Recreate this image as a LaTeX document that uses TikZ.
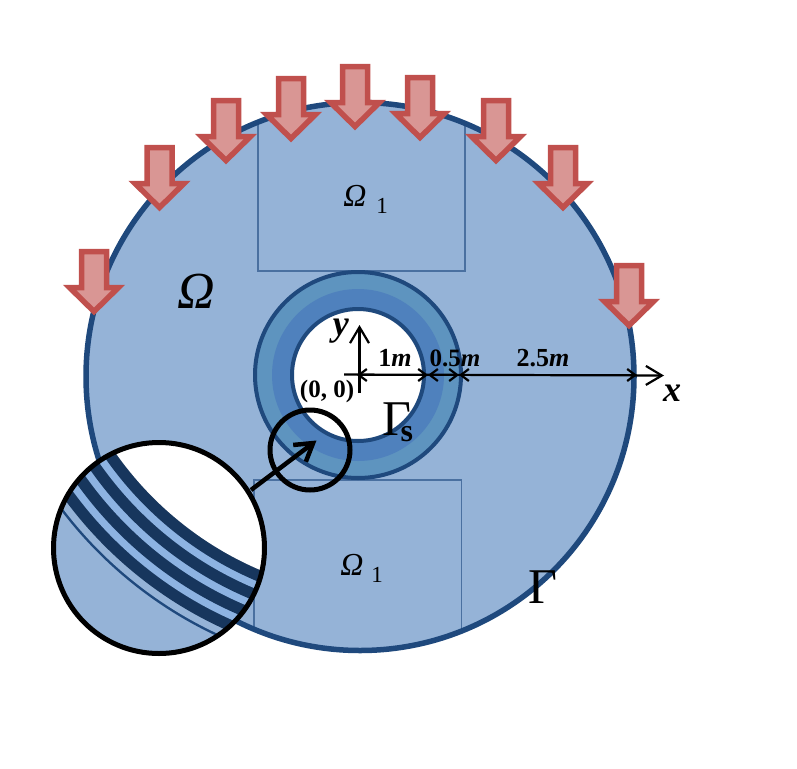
\documentclass[tikz,border=0pt]{standalone}
\usepackage{fontspec}
\setmainfont{Liberation Serif}
\usetikzlibrary{arrows.meta}
\definecolor{domblue}{HTML}{95B3D7}
\definecolor{rimblue}{HTML}{1F497D}
\definecolor{ringout}{HTML}{5E94BF}
\definecolor{ringin}{HTML}{4F81BD}
\definecolor{loadfill}{HTML}{D99694}
\definecolor{loadline}{HTML}{C0504D}
\definecolor{banddark}{HTML}{17365D}
\definecolor{bandlight}{HTML}{8DB3E2}
\definecolor{boxline}{HTML}{4A70A0}
\tikzset{
  x=1pt,y=-1pt,
  loadarrow/.style={draw=loadline,fill=loadfill,line width=5.5pt,miter limit=10},
  subbox/.style={draw=boxline,line width=1.2pt},
  lens/.style={circle,draw=black,line width=5pt,inner sep=0pt},
  axisline/.style={draw=black,line width=2.2pt,-{Straight Barb[length=16pt,width=19pt,line width=2.2pt]}},
  dimline/.style={draw=black,line width=2.2pt,{Straight Barb[length=8pt,width=12pt,line width=2.2pt]}-{Straight Barb[length=8pt,width=12pt,line width=2.2pt]}},
  pointer/.style={draw=black,line width=4.5pt,-{Straight Barb[length=17pt,width=21pt,line width=4.5pt]}},
  lab/.style={inner sep=0pt,text=black}
}
\newcommand{\fsz}[1]{\fontsize{#1}{#1}\selectfont}
\newcommand{\bi}[1]{\textbf{\textit{#1}}}
\begin{document}
\begin{tikzpicture}
\useasboundingbox (0,0) rectangle (797,768);
% domain
\fill[domblue] (360,376.5) circle[radius=274pt];
\begin{scope}
  \clip (360,376.5) circle[radius=274pt];
  \draw[subbox] (258,90) rectangle (465,271);
  \draw[subbox] (254,480) rectangle (461.5,680);
\end{scope}
\draw[rimblue,line width=5.5pt] (360,376.5) circle[radius=274pt];
% ring
\fill[ringout] (358,375) circle[radius=103pt];
\fill[ringin] (358,375) circle[radius=86pt];
\fill[white] (358,375) circle[radius=66pt];
\draw[rimblue,line width=4pt] (358,375) circle[radius=103pt];
\draw[rimblue,line width=4pt] (358,375) circle[radius=66pt];
% loads
\foreach \cx/\ty in {94/249,159.5/145,226/98,291/76,355/64,420/75,496/98,563/145,629/263}{
  \draw[loadarrow] (\cx-12.5,\ty+2.7) -- (\cx+12.5,\ty+2.7) -- (\cx+12.5,\ty+38.5) -- (\cx+24.5,\ty+38.5)
    -- (\cx,\ty+62.5) -- (\cx-24.5,\ty+38.5) -- (\cx-12.5,\ty+38.5) -- cycle;
}
% axes
\coordinate (xs) at (344,374.5);
\coordinate (xe) at (664,375.5);
\coordinate (ys) at (359.5,393);
\coordinate (ye) at (359.5,325);
\draw[axisline] (xs) -- (xe);
\draw[axisline] (ys) -- (ye);
\coordinate (d0) at (357,375);
\coordinate (d1) at (428,375);
\coordinate (d2) at (459,375);
\coordinate (d3) at (637,375);
\draw[dimline] (d0) -- (d1);
\draw[dimline] (d1) -- (d2);
\draw[dimline] (d2) -- (d3);
% labels
\node[lab] (om) at (196,291) {\fsz{52}\textit{Ω}};
\node[lab] (om1a) at (355,196) {\fsz{32}\textit{Ω}};
\node[lab] (om1b) at (382,206) {\fsz{23}1};
\node[lab] (om2a) at (352,565) {\fsz{32}\textit{Ω}};
\node[lab] (om2b) at (377,575) {\fsz{23}1};
\node[lab] (gam) at (543,587) {\fsz{50}Γ};
\node[lab,anchor=base] (gams) at (398,435) {\fsz{50}Γ\kern-11pt\raisebox{-6pt}{\fsz{32}\textbf{s}}};
\node[lab] (ylab) at (341,331) {\fsz{36}\bi{y}};
\node[lab] (xlab) at (672,393) {\fsz{36}\bi{x}};
\node[lab] (orig) at (327,391) {\fsz{25}\textbf{(0, 0)}};
\node[lab] (l1) at (395,358) {\fsz{26}\textbf{1}\bi{m}};
\node[lab] (l2) at (455,358) {\fsz{25}\textbf{0.5}\bi{m}};
\node[lab] (l3) at (543,358) {\fsz{26}\textbf{2.5}\bi{m}};
% lens
\fill[domblue] (159,548) circle[radius=105.5pt];
\begin{scope}
  \clip (159,548) circle[radius=105.5pt];
  \def\bx{393}\def\by{258}
  \fill[rimblue] (\bx,\by) circle[radius=417pt];
  \fill[domblue] (\bx,\by) circle[radius=414.5pt];
  \foreach \r/\c in {407.5/banddark,396/bandlight,388.5/banddark,377/bandlight,369.5/banddark,358/bandlight,350.5/banddark}{
    \fill[\c] (\bx,\by) circle[radius=\r pt];
  }
  \fill[white] (\bx,\by) circle[radius=339pt];
\end{scope}
\node[lens,minimum size=211pt] (zc) at (159,548) {};
\node[lens,minimum size=80pt] (sc) at (310,450) {};
\coordinate (tip) at (316.5,440.5);
\coordinate (ps) at (251,490);
\draw[pointer] (ps) -- (tip);
\end{tikzpicture}
\end{document}
